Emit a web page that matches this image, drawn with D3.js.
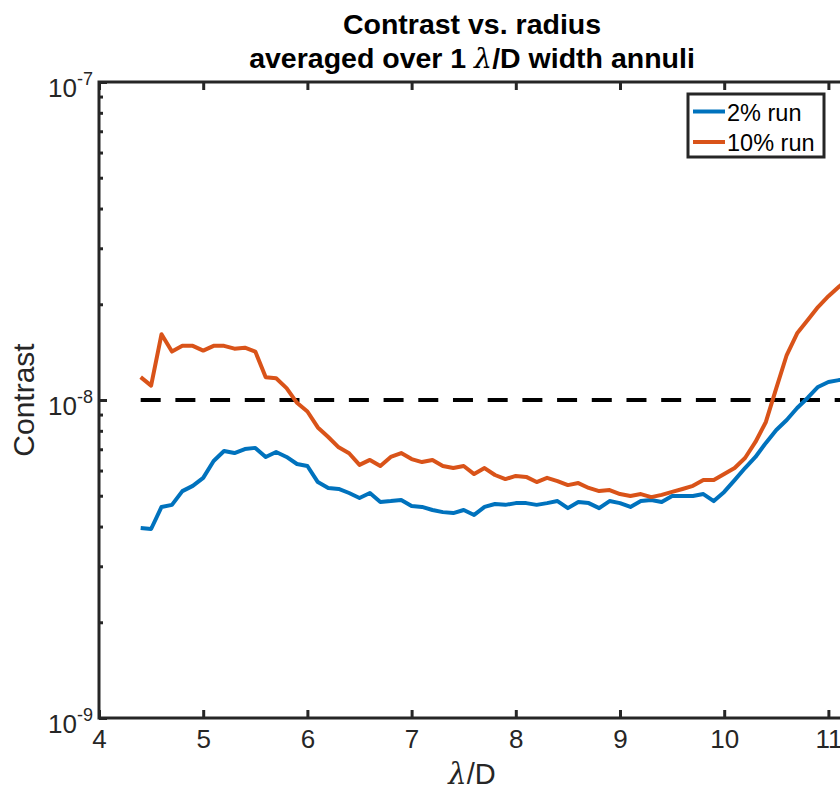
<!DOCTYPE html>
<html>
<head>
<meta charset="utf-8">
<script src="https://cdn.jsdelivr.net/npm/d3@7"></script>
<style>
  html, body { margin: 0; padding: 0; background: #fff; }
  svg { display: block; }
</style>
</head>
<body>
<svg id="chart" width="840" height="793"></svg>
<script>
// Radial positions in λ/D
const radius = [4.4, 4.5, 4.6, 4.7, 4.8, 4.9, 5.0, 5.1, 5.2, 5.3,
  5.4, 5.5, 5.6, 5.7, 5.8, 5.9, 6.0, 6.1, 6.2, 6.3,
  6.4, 6.5, 6.6, 6.7, 6.8, 6.9, 7.0, 7.1, 7.2, 7.3,
  7.4, 7.5, 7.6, 7.7, 7.8, 7.9, 8.0, 8.1, 8.2, 8.3,
  8.4, 8.5, 8.6, 8.7, 8.8, 8.9, 9.0, 9.1, 9.2, 9.3,
  9.4, 9.5, 9.6, 9.7, 9.8, 9.9, 10.0, 10.1, 10.2, 10.3,
  10.4, 10.5, 10.6, 10.7, 10.8, 10.9, 11.0, 11.1, 11.2];

// Annulus-averaged contrast, in units of 1e-9
const run2 = [3.96, 3.93, 4.61, 4.68, 5.17, 5.37, 5.69, 6.43, 6.91, 6.81,
  7.01, 7.07, 6.62, 6.86, 6.62, 6.29, 6.20, 5.52, 5.29, 5.25,
  5.10, 4.92, 5.10, 4.78, 4.81, 4.85, 4.64, 4.61, 4.51, 4.44,
  4.41, 4.51, 4.35, 4.61, 4.71, 4.68, 4.74, 4.74, 4.68, 4.74,
  4.81, 4.57, 4.78, 4.74, 4.57, 4.81, 4.74, 4.61, 4.81, 4.85,
  4.78, 4.99, 4.99, 4.99, 5.06, 4.81, 5.14, 5.60, 6.11, 6.62,
  7.33, 8.05, 8.65, 9.44, 10.15, 10.99, 11.39, 11.55, 11.56];

const run10 = [11.8, 11.1, 16.1, 14.2, 14.8, 14.8, 14.3, 14.8, 14.8, 14.5,
  14.6, 14.2, 11.8, 11.7, 10.9, 9.8, 9.2, 8.2, 7.65, 7.1,
  6.8, 6.25, 6.48, 6.2, 6.62, 6.81, 6.52, 6.38, 6.48, 6.2,
  6.11, 6.2, 5.85, 6.11, 5.81, 5.64, 5.77, 5.73, 5.52, 5.69,
  5.56, 5.40, 5.48, 5.29, 5.17, 5.21, 5.06, 4.99, 5.06, 4.95,
  5.03, 5.14, 5.25, 5.37, 5.60, 5.60, 5.85, 6.11, 6.57, 7.38,
  8.53, 10.9, 13.85, 16.2, 17.8, 19.6, 21.2, 22.7, 24.2];

const UNIT = 1e-9;
const seriesNames = ["2% run", "10% run"];
const seriesColors = ["#0072BD", "#D95319"];
const targetContrast = 1e-8;

const xTicks = [4, 5, 6, 7, 8, 9, 10, 11];
const yMajor = [1e-9, 1e-8, 1e-7];
const yExponents = [-9, -8, -7];

// Title pieces: [text, isSymbol]
const titleLine1 = [["Contrast vs. radius", false]];
const titleLine2 = [["averaged over 1 ", false], ["\u03BB", true], ["/D width annuli", false]];
const xLabelParts = [["\u03BB", true], ["/D", false]];
const yLabel = "Contrast";

// Layout
const plotLeft = 99, plotTop = 82, plotBottom = 718;
const xMax = 11.2;
const unitPx = 104.2;
const plotRight = plotLeft + (xMax - 4) * unitPx;

const axisColor = "#262626";
const tickFont = "'Liberation Sans Narrow', 'Liberation Sans', Arial, sans-serif";
const mainFont = "'Liberation Sans', Arial, sans-serif";
const symbolFont = "'DejaVu Serif', 'Liberation Serif', serif";

const svg = d3.select("#chart");

const x = d3.scaleLinear().domain([4, xMax]).range([plotLeft, plotRight]);
const y = d3.scaleLog().domain([1e-9, 1e-7]).range([plotBottom, plotTop]);

svg.append("defs").append("clipPath").attr("id", "plotClip")
  .append("rect").attr("x", plotLeft).attr("y", plotTop)
  .attr("width", plotRight - plotLeft).attr("height", plotBottom - plotTop);

const plot = svg.append("g").attr("clip-path", "url(#plotClip)");

// Threshold line
plot.append("line")
  .attr("x1", x(radius[0])).attr("x2", x(radius[radius.length - 1]))
  .attr("y1", y(targetContrast)).attr("y2", y(targetContrast))
  .attr("stroke", "#000").attr("stroke-width", 4)
  .attr("stroke-dasharray", "20,14.7");

// Series lines
const line = d3.line()
  .x((d, i) => x(radius[i]))
  .y(d => y(d * UNIT));

[run2, run10].forEach((vals, k) => {
  plot.append("path")
    .datum(vals)
    .attr("d", line)
    .attr("fill", "none")
    .attr("stroke", seriesColors[k])
    .attr("stroke-width", 4)
    .attr("stroke-linejoin", "round")
    .attr("stroke-linecap", "butt");
});

// Axes
const minorVals = [];
[1e-9, 1e-8].forEach(dec => { for (let m = 2; m <= 9; m++) minorVals.push(m * dec); });

const gx = svg.append("g").attr("transform", `translate(0,${plotBottom})`)
  .call(d3.axisBottom(x).tickValues(xTicks).tickSize(-8).tickPadding(12)
    .tickFormat(d3.format("d")));
const gxTop = svg.append("g").attr("transform", `translate(0,${plotTop})`)
  .call(d3.axisTop(x).tickValues(xTicks).tickSize(-8).tickFormat(""));
const gyMinor = svg.append("g").attr("transform", `translate(${plotLeft},0)`)
  .call(d3.axisLeft(y).tickValues(minorVals).tickSize(-4).tickFormat(""));
const gy = svg.append("g").attr("transform", `translate(${plotLeft},0)`)
  .call(d3.axisLeft(y).tickValues(yMajor).tickSize(-8).tickPadding(6).tickFormat(""));

[gx, gxTop, gyMinor, gy].forEach(g => {
  g.select(".domain").remove();
  g.selectAll(".tick line").attr("stroke", axisColor).attr("stroke-width", 3);
});

gx.selectAll(".tick text")
  .attr("fill", axisColor)
  .style("font-family", tickFont)
  .style("font-size", "26px");

// Powers of ten on the contrast axis
gy.selectAll(".tick").each(function (d) {
  const t = d3.select(this).select("text")
    .attr("x", -6).attr("dy", null).attr("y", 14)
    .attr("text-anchor", "end")
    .attr("fill", axisColor)
    .style("font-family", tickFont)
    .style("font-size", "26px");
  t.append("tspan").text("10");
  t.append("tspan").attr("dy", -12).style("font-size", "18px")
    .text(String(yExponents[yMajor.indexOf(d)]));
});

// Box
svg.append("rect").attr("x", plotLeft).attr("y", plotTop)
  .attr("width", plotRight - plotLeft).attr("height", plotBottom - plotTop)
  .attr("fill", "none").attr("stroke", axisColor).attr("stroke-width", 3);

// Text made of plain runs and a Greek symbol run
function richText(sel, parts) {
  parts.forEach(([s, sym]) => {
    const ts = sel.append("tspan").text(s);
    if (sym) {
      ts.style("font-family", symbolFont)
        .style("font-weight", "normal")
        .style("font-style", "italic");
    }
  });
  return sel;
}

// Titles and labels
const title = svg.append("g")
  .style("font-family", mainFont).style("font-weight", "bold")
  .style("font-size", "28.5px").attr("fill", "#000");
[titleLine1, titleLine2].forEach((parts, i) => {
  const t = title.append("text").attr("x", 472).attr("y", 34 + i * 34)
    .attr("text-anchor", "middle");
  richText(t, parts);
});

const xl = svg.append("text").attr("x", 472).attr("y", 784)
  .attr("text-anchor", "middle")
  .style("font-family", tickFont).style("font-size", "29px")
  .attr("fill", axisColor);
richText(xl, xLabelParts);

svg.append("text")
  .attr("transform", `translate(34,400) rotate(-90)`)
  .attr("text-anchor", "middle")
  .style("font-family", tickFont).style("font-size", "30px")
  .attr("fill", axisColor).text(yLabel);

// Legend
const lg = svg.append("g");
lg.append("rect").attr("x", 688).attr("y", 94)
  .attr("width", 136).attr("height", 63)
  .attr("fill", "#fff").attr("stroke", axisColor).attr("stroke-width", 3);
seriesNames.forEach((name, k) => {
  const cy = 111.5 + k * 30.5;
  lg.append("line").attr("x1", 693).attr("x2", 725)
    .attr("y1", cy).attr("y2", cy)
    .attr("stroke", seriesColors[k]).attr("stroke-width", 4);
  lg.append("text").attr("x", 727).attr("y", cy + 9)
    .style("font-family", mainFont).style("font-size", "23.5px")
    .attr("fill", "#000").text(name);
});
</script>
</body>
</html>
